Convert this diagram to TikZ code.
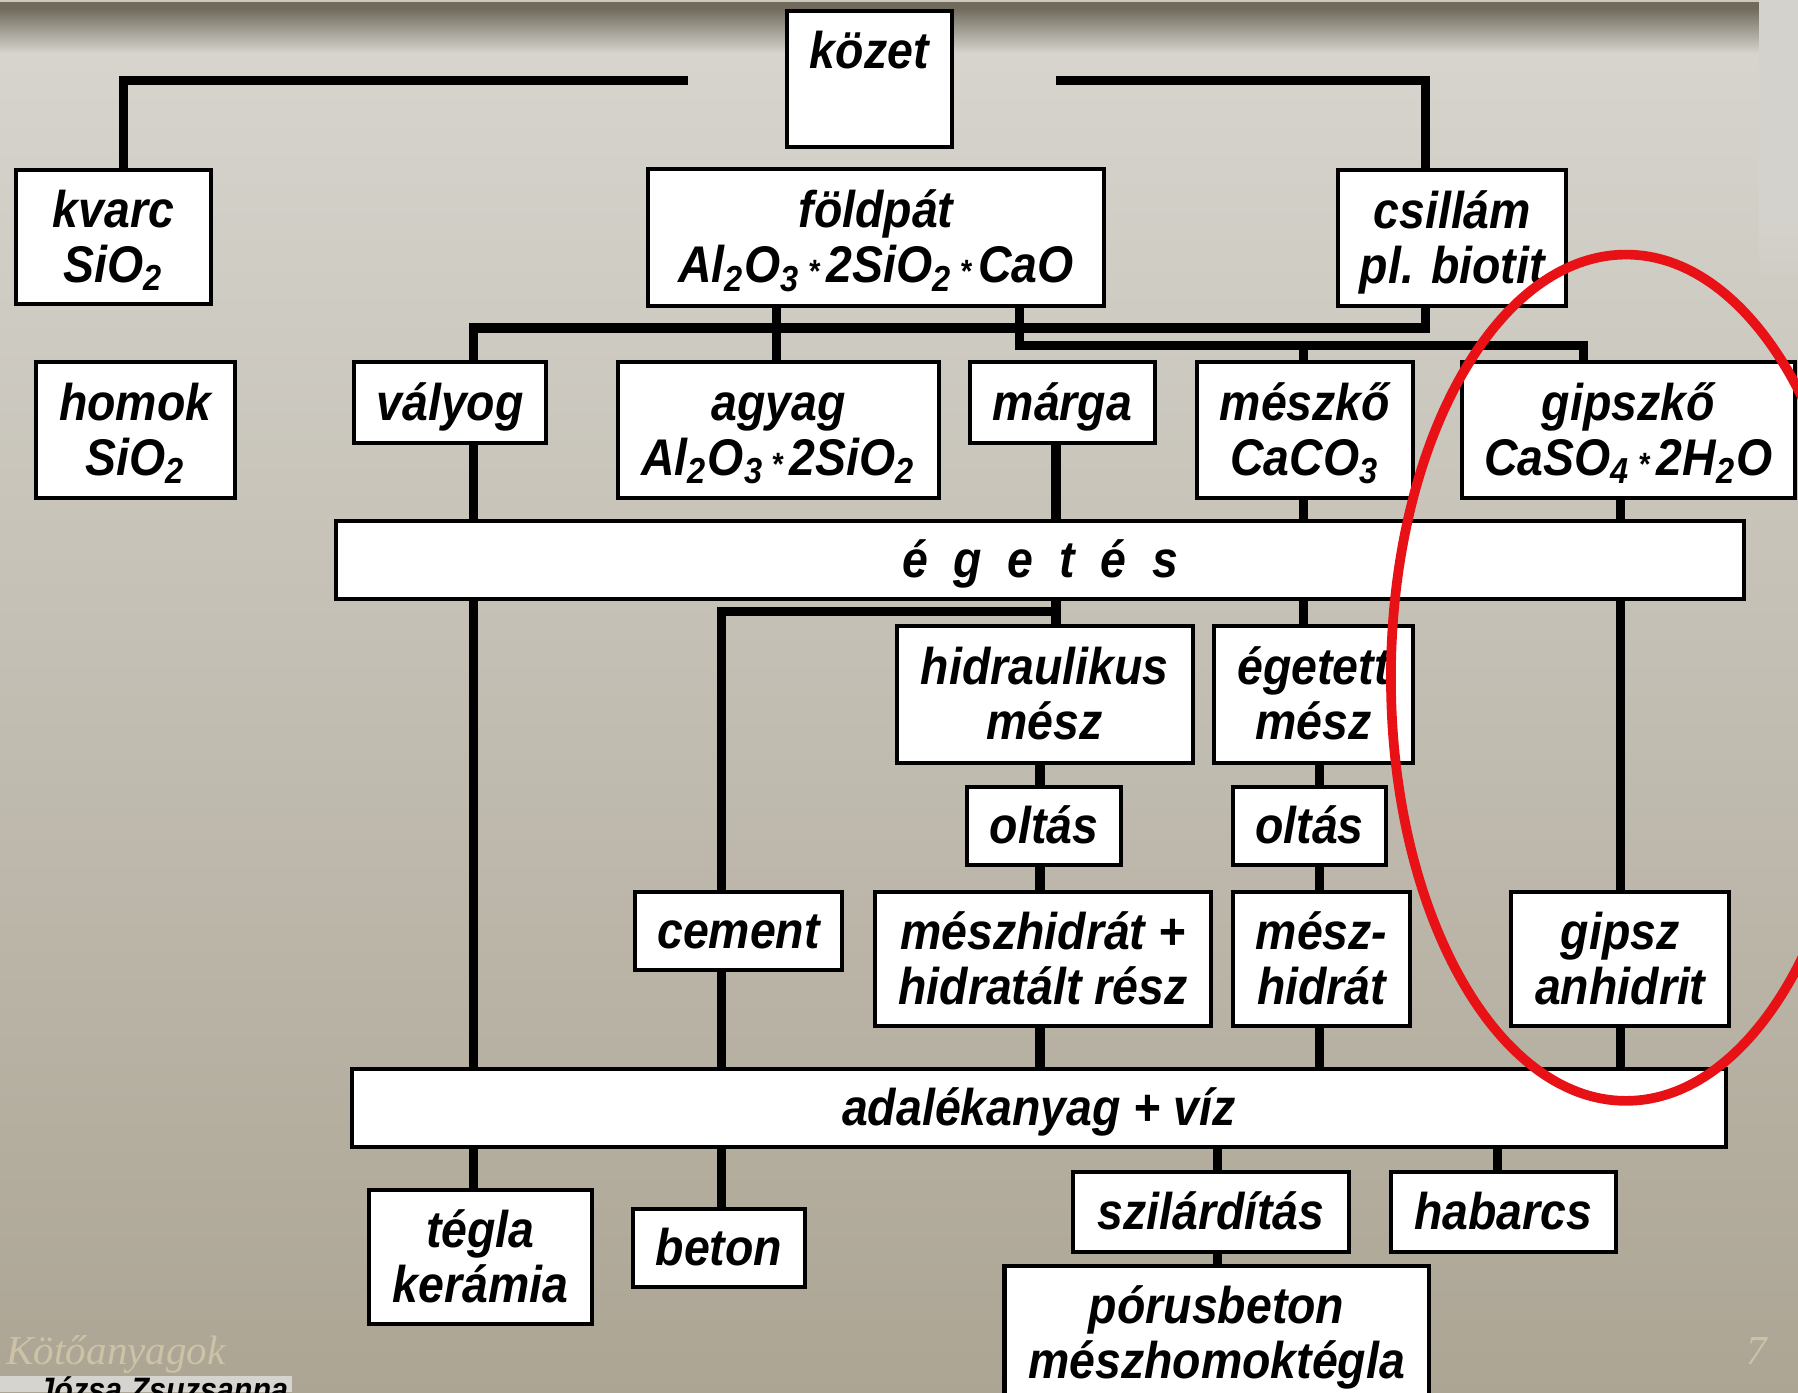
\documentclass[tikz,border=0pt]{standalone}
\usepackage{fontspec}
\newfontfamily\boxfont{Liberation Sans}[FakeStretch = 0.9]
\newfontfamily\footfont{Liberation Serif}

\definecolor{hatterfent}{RGB}{216,214,208}
\definecolor{hatterlent}{RGB}{172,165,148}
\definecolor{savsotet}{RGB}{112,106,92}
\definecolor{savvilagos}{RGB}{204,200,188}
\definecolor{csik}{RGB}{212,210,204}
\definecolor{piros}{RGB}{232,18,22}
\definecolor{fakolt}{RGB}{206,194,166}
\definecolor{szurke}{RGB}{214,212,206}

\newcommand{\felsosor}{\rule{0pt}{0.43cm}}
\newcommand{\alsosor}{\rule[-0.12cm]{0pt}{0.12cm}}
\newcommand{\csillag}{\hspace{0.14em}{\fontsize{8}{8}\selectfont *}\hspace{0.14em}}

\tikzset{
	box/.style = {draw, fill = white, line width = 1pt, inner sep = 0pt, align = center,
		font = \boxfont\fontsize{12.8}{13.66}\selectfont\bfseries\itshape},
	conn/.style = {line width = 2.3pt},
	kor/.style = {draw = piros, line width = 2.4pt}
}

\begin{document}
\begin{tikzpicture}[x = 1cm, y = -1cm]
	\useasboundingbox (0, 0) rectangle (15.68, 12.14);
	\clip (0, 0) rectangle (15.68, 12.14);

	\shade [top color = hatterfent, bottom color = hatterlent] (0, 0) rectangle (15.68, 12.14);
	\fill [savsotet] (0, 0) rectangle (15.68, 0.07);
	\shade [top color = savsotet, bottom color = hatterfent] (0, 0.07) rectangle (15.68, 0.47);
	\fill [savvilagos] (0, 0) rectangle (15.68, 0.015);
	\fill [csik] (15.34, 0) rectangle (15.68, 1.9);
	\shade [top color = csik, bottom color = hatterfent!82!hatterlent] (15.34, 1.9) rectangle (15.68, 2.4);

	\node [box, minimum width = 1.44cm, text height = 0.50cm, text depth = 0.68cm] (kozet) at (7.58, 0.69) {közet};
	\node [box, minimum width = 1.70cm, minimum height = 1.17cm] (kvarc) at (0.99, 2.065) {\felsosor kvarc\\SiO\textsubscript{2}\alsosor};
	\node [box, minimum width = 3.98cm, minimum height = 1.20cm] (foldpat) at (7.64, 2.07) {\felsosor földpát\\Al\textsubscript{2}O\textsubscript{3}\csillag 2SiO\textsubscript{2}\csillag CaO\alsosor};
	\node [box, minimum width = 1.99cm, minimum height = 1.19cm] (csillam) at (12.665, 2.075) {\felsosor csillám\\pl. biotit\alsosor};

	\node [box, minimum width = 1.74cm, minimum height = 1.18cm] (homok) at (1.18, 3.75) {\felsosor homok\\SiO\textsubscript{2}\alsosor};
	\node [box, minimum width = 1.67cm, minimum height = 0.70cm] (valyog) at (3.925, 3.51) {\felsosor vályog\alsosor};
	\node [box, minimum width = 2.80cm, minimum height = 1.18cm] (agyag) at (6.79, 3.75) {\felsosor agyag\\Al\textsubscript{2}O\textsubscript{3}\csillag 2SiO\textsubscript{2}\alsosor};
	\node [box, minimum width = 1.61cm, minimum height = 0.70cm] (marga) at (9.265, 3.51) {\felsosor márga\alsosor};
	\node [box, minimum width = 1.88cm, minimum height = 1.18cm] (meszko) at (11.38, 3.75) {\felsosor mészkő\\CaCO\textsubscript{3}\alsosor};
	\node [box, minimum width = 2.90cm, minimum height = 1.18cm] (gipszko) at (14.20, 3.75) {\felsosor gipszkő\\CaSO\textsubscript{4}\csillag 2H\textsubscript{2}O\alsosor};

	\node [box, minimum width = 12.28cm, minimum height = 0.68cm] (egetes) at (9.07, 4.88) {\felsosor é\hspace{0.5em}g\hspace{0.5em}e\hspace{0.5em}t\hspace{0.5em}é\hspace{0.5em}s\alsosor};

	\node [box, minimum width = 2.58cm, minimum height = 1.19cm] (hidr) at (9.11, 6.055) {\felsosor hidraulikus\\mész\alsosor};
	\node [box, minimum width = 1.73cm, minimum height = 1.19cm] (egetett) at (11.455, 6.055) {\felsosor égetett\\mész\alsosor};
	\node [box, minimum width = 1.35cm, minimum height = 0.68cm] (oltas1) at (9.105, 7.20) {\felsosor oltás\alsosor};
	\node [box, minimum width = 1.34cm, minimum height = 0.68cm] (oltas2) at (11.42, 7.20) {\felsosor oltás\alsosor};
	\node [box, minimum width = 1.80cm, minimum height = 0.68cm] (cement) at (6.44, 8.12) {\felsosor cement\alsosor};
	\node [box, minimum width = 2.93cm, minimum height = 1.17cm] (meszhidr) at (9.095, 8.365) {\felsosor mészhidrát +\\hidratált rész\alsosor};
	\node [box, minimum width = 1.55cm, minimum height = 1.17cm] (meszhidrat) at (11.525, 8.365) {\felsosor mész-\\hidrát\alsosor};
	\node [box, minimum width = 1.90cm, minimum height = 1.17cm] (gipsz) at (14.13, 8.365) {\felsosor gipsz\\anhidrit\alsosor};

	\node [box, minimum width = 11.98cm, minimum height = 0.68cm] (adalek) at (9.06, 9.66) {\felsosor adalékanyag + víz\alsosor};

	\node [box, minimum width = 1.94cm, minimum height = 1.17cm] (tegla) at (4.19, 10.965) {\felsosor tégla\\kerámia\alsosor};
	\node [box, minimum width = 1.50cm, minimum height = 0.68cm] (beton) at (6.27, 10.88) {\felsosor beton\alsosor};
	\node [box, minimum width = 2.40cm, minimum height = 0.70cm] (szil) at (10.56, 10.57) {\felsosor szilárdítás\alsosor};
	\node [box, minimum width = 1.96cm, minimum height = 0.70cm] (habarcs) at (13.11, 10.57) {\felsosor habarcs\alsosor};
	\node [box, minimum width = 3.70cm, minimum height = 1.18cm] (porus) at (10.61, 11.63) {\felsosor pórusbeton\\mészhomoktégla\alsosor};

	\coordinate (kl) at (6.00, 0.70);
	\coordinate (kr) at (9.21, 0.70);
	\coordinate (bus1) at (0, 2.86);
	\coordinate (bus2) at (0, 3.01);
	\coordinate (bus3) at (0, 5.33);

	\coordinate (kv) at (1.08, 0);
	\coordinate (cs) at (12.43, 0);
	\coordinate (ag) at (6.77, 0);
	\coordinate (fp) at (8.89, 0);
	\coordinate (gk) at (13.81, 0);
	\coordinate (va) at (4.13, 0);
	\coordinate (ce) at (6.29, 0);
	\coordinate (ma) at (9.21, 0);
	\coordinate (ol) at (9.07, 0);
	\coordinate (mk) at (11.37, 0);
	\coordinate (mh) at (11.51, 0);
	\coordinate (gi) at (14.13, 0);
	\coordinate (sz) at (10.62, 0);
	\coordinate (hb) at (13.06, 0);

	\draw [conn] (kl) -| (kvarc.north -| kv);
	\draw [conn] (kr) -| (csillam.north -| cs);

	\draw [conn] (valyog.north -| va) |- (bus1 -| cs) -- (csillam.south -| cs);
	\draw [conn] (foldpat.south -| ag) -- (agyag.north -| ag);
	\draw [conn] (foldpat.south -| fp) |- (bus2 -| gk) -- (gipszko.north -| gk);
	\draw [conn] (bus2 -| mk) -- (meszko.north -| mk);

	\draw [conn] (valyog.south -| va) -- (egetes.north -| va);
	\draw [conn] (marga.south -| ma) -- (egetes.north -| ma);
	\draw [conn] (meszko.south -| mk) -- (egetes.north -| mk);
	\draw [conn] (gipszko.south -| gi) -- (egetes.north -| gi);

	\draw [conn] (egetes.south -| va) -- (adalek.north -| va);
	\draw [conn] (egetes.south -| ma) -- (hidr.north -| ma);
	\draw [conn] (bus3 -| ma) -| (cement.north -| ce);
	\draw [conn] (egetes.south -| mk) -- (egetett.north -| mk);
	\draw [conn] (egetes.south -| gi) -- (gipsz.north -| gi);

	\draw [conn] (hidr.south -| ol) -- (oltas1.north -| ol);
	\draw [conn] (oltas1.south -| ol) -- (meszhidr.north -| ol);
	\draw [conn] (egetett.south -| mh) -- (oltas2.north -| mh);
	\draw [conn] (oltas2.south -| mh) -- (meszhidrat.north -| mh);

	\draw [conn] (cement.south -| ce) -- (adalek.north -| ce);
	\draw [conn] (meszhidr.south -| ol) -- (adalek.north -| ol);
	\draw [conn] (meszhidrat.south -| mh) -- (adalek.north -| mh);
	\draw [conn] (gipsz.south -| gi) -- (adalek.north -| gi);

	\draw [conn] (adalek.south -| va) -- (tegla.north -| va);
	\draw [conn] (adalek.south -| ce) -- (beton.north -| ce);
	\draw [conn] (adalek.south -| sz) -- (szil.north -| sz);
	\draw [conn] (adalek.south -| hb) -- (habarcs.north -| hb);
	\draw [conn] (szil.south -| sz) -- (porus.north -| sz);

	\draw [kor] (14.18, 5.91) ellipse [x radius = 2.05cm, y radius = 3.69cm];

	\node [anchor = base west, inner sep = 0pt, text = fakolt, font = \footfont\itshape\fontsize{10.2}{12}\selectfont] (cim) at (0.05, 11.90) {Kötőanyagok};
	\node [anchor = base west, inner sep = 0pt, text = fakolt, font = \footfont\itshape\fontsize{10.2}{12}\selectfont] (oldal) at (15.22, 11.90) {7};
	\fill [szurke] (0, 12.00) rectangle (2.55, 12.14);
	\node [anchor = base west, inner sep = 0pt, font = \boxfont\fontsize{8.4}{10}\selectfont\bfseries\itshape] (szerzo) at (0.32, 12.22) {Józsa Zsuzsanna};
\end{tikzpicture}
\end{document}
